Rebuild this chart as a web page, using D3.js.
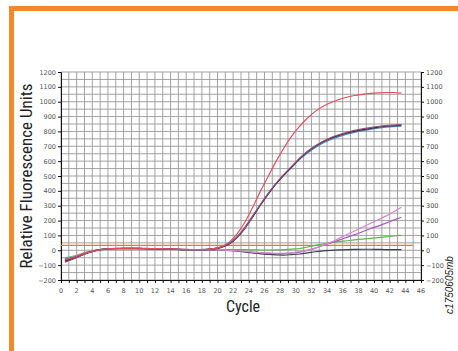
<!DOCTYPE html>
<html>
<head>
<meta charset="utf-8">
<script src="https://cdn.jsdelivr.net/npm/d3@7"></script>
<style>
  body { margin: 0; background: #fff; }
  svg { display: block; }
</style>
</head>
<body>
<script>
// cycles where each reading is plotted
const cycles = [0.5, 1.5, 2.5, 3.5, 4.5, 5.5, 6.5, 7.5, 8.5, 9.5, 10.5, 11.5, 12.5, 13.5, 14.5,
  15.5, 16.5, 17.5, 18.5, 19.5, 20.5, 21.5, 22.5, 23.5, 24.5, 25.5, 26.5, 27.5, 28.5, 29.5,
  30.5, 31.5, 32.5, 33.5, 34.5, 35.5, 36.5, 37.5, 38.5, 39.5, 40.5, 41.5, 42.5, 43.5];

const redVals = [-65, -50, -30, -12, 0, 8, 12, 13, 14, 14, 13, 12, 11, 10, 8,
  6, 5, 5, 6, 12, 25, 55, 110, 190, 290, 400, 500, 600, 690, 770,
  835, 890, 935, 970, 995, 1015, 1030, 1042, 1050, 1056, 1060, 1062, 1062, 1058];
const blackVals = [-72, -56, -35, -15, 0, 8, 12, 13, 13, 13, 12, 11, 10, 9, 7,
  5, 4, 4, 5, 9, 20, 42, 85, 148, 225, 305, 380, 448, 508, 562,
  618, 663, 700, 730, 755, 773, 789, 802, 812, 821, 829, 835, 839, 842];
const blueVals = [-60, -48, -30, -13, 0, 7, 11, 12, 12, 12, 11, 10, 9, 8, 6,
  5, 4, 4, 6, 11, 24, 48, 92, 155, 232, 310, 383, 450, 507, 560,
  612, 655, 692, 722, 746, 765, 781, 794, 805, 814, 822, 828, 832, 835];
const maroonVals = [-80, -60, -38, -16, -1, 7, 11, 12, 13, 13, 12, 11, 10, 9, 7,
  5, 4, 4, 5, 10, 22, 45, 88, 152, 230, 310, 385, 452, 512, 566,
  620, 666, 704, 734, 759, 778, 794, 807, 817, 826, 833, 839, 843, 846];
const pinkVals = [-55, -45, -28, -10, 2, 8, 11, 12, 12, 12, 11, 10, 9, 8, 7,
  6, 5, 5, 5, 4, 2, 0, -3, -7, -12, -15, -18, -20, -20, -17,
  -10, 0, 15, 35, 55, 80, 105, 130, 155, 180, 205, 230, 260, 290];
const purpleVals = [-68, -52, -32, -13, 0, 7, 11, 12, 12, 12, 11, 10, 9, 8, 7,
  6, 5, 4, 4, 3, 1, -1, -3, -8, -12, -17, -20, -22, -22, -18,
  -12, 0, 15, 32, 50, 68, 87, 105, 125, 145, 163, 183, 203, 222];
const greenVals = [-50, -40, -25, -8, 2, 6, 8, 9, 9, 9, 8, 8, 7, 7, 6,
  5, 5, 5, 5, 5, 5, 5, 5, 4, 3, 2, 2, 3, 5, 8,
  12, 22, 33, 43, 52, 58, 64, 70, 75, 80, 85, 90, 96, 100];
const grayVals = [-75, -58, -36, -16, -2, 6, 10, 11, 11, 11, 10, 9, 8, 7, 6,
  5, 4, 4, 4, 3, 1, -2, -5, -12, -18, -24, -28, -31, -32, -29,
  -25, -18, -10, -4, 0, 3, 5, 6, 7, 7, 6, 5, 5, 4];

const seriesNames = ["gray", "green", "purple", "pink", "blue", "black", "maroon", "red"];
const seriesVals = [grayVals, greenVals, purpleVals, pinkVals, blueVals, blackVals, maroonVals, redVals];
const seriesColors = ["#3b3f4f", "#5db846", "#a35bb8", "#d985d0", "#4f7fb8", "#262630", "#9a4f78", "#e2505e"];

const threshold = 33;
const thresholdSpan = [0, 45];

const xTicks = [0, 2, 4, 6, 8, 10, 12, 14, 16, 18, 20, 22, 24, 26, 28, 30, 32, 34, 36, 38, 40, 42, 44, 46];
const yTicks = [-200, -100, 0, 100, 200, 300, 400, 500, 600, 700, 800, 900, 1000, 1100, 1200];

const W = 458, H = 351;
const plot = { left: 61, right: 421, top: 72, bottom: 280 };

const x = d3.scaleLinear().domain([0, 46]).range([plot.left, plot.right]);
const y = d3.scaleLinear().domain([-200, 1200]).range([plot.bottom, plot.top]);

const svg = d3.select("body").append("svg")
  .attr("width", W).attr("height", H);

svg.append("rect").attr("width", W).attr("height", H).attr("fill", "#fff");

// orange frame
svg.append("rect").attr("x", 9).attr("y", 6).attr("width", W - 9).attr("height", 5).attr("fill", "#f5892a");
svg.append("rect").attr("x", 9).attr("y", 6).attr("width", 5).attr("height", H - 6).attr("fill", "#f5892a");

// grid
const grid = svg.append("g");
grid.selectAll(".vg")
  .data(d3.range(0, 47))
  .enter().append("line")
  .attr("x1", d => x(d)).attr("x2", d => x(d))
  .attr("y1", plot.top).attr("y2", plot.bottom)
  .attr("stroke", "#999").attr("stroke-width", 0.9);
grid.selectAll(".hg")
  .data(d3.range(-200, 1201, 50))
  .enter().append("line")
  .attr("x1", plot.left).attr("x2", plot.right)
  .attr("y1", d => y(d)).attr("y2", d => y(d))
  .attr("stroke", "#999").attr("stroke-width", 0.9);

// axes
const tickFont = "DejaVu Sans, sans-serif";

const xAxis = svg.append("g")
  .attr("transform", "translate(0," + plot.bottom + ")")
  .call(d3.axisBottom(x).tickValues(d3.range(0, 47)).tickSize(3).tickFormat(""));
xAxis.selectAll("line").attr("stroke", "#111");
xAxis.select(".domain").attr("stroke", "#111");

svg.append("g").selectAll("text")
  .data(xTicks)
  .enter().append("text")
  .attr("x", d => x(d)).attr("y", plot.bottom + 13)
  .attr("text-anchor", "middle")
  .attr("font-family", tickFont).attr("font-size", 6.5)
  .attr("fill", "#555")
  .text(d => d);

const yLeft = svg.append("g")
  .attr("transform", "translate(" + plot.left + ",0)")
  .call(d3.axisLeft(y).tickValues(yTicks).tickSize(3).tickPadding(2).tickFormat(d3.format("d")));
const yRight = svg.append("g")
  .attr("transform", "translate(" + plot.right + ",0)")
  .call(d3.axisRight(y).tickValues(yTicks).tickSize(3).tickPadding(2).tickFormat(d3.format("d")));

[yLeft, yRight].forEach(g => {
  g.select(".domain").attr("stroke", "#111");
  g.selectAll("line").attr("stroke", "#111");
  g.selectAll("text")
    .attr("font-family", tickFont).attr("font-size", 6.5)
    .attr("fill", "#555");
});

// threshold
svg.append("line")
  .attr("x1", x(thresholdSpan[0])).attr("x2", x(thresholdSpan[1]))
  .attr("y1", y(threshold)).attr("y2", y(threshold))
  .attr("stroke", "#f07a22").attr("stroke-width", 1.4);

// curves
const line = d3.line()
  .x((d, i) => x(cycles[i]))
  .y(d => y(d))
  .curve(d3.curveMonotoneX);

svg.append("g").selectAll("path")
  .data(seriesVals)
  .enter().append("path")
  .attr("d", d => line(d))
  .attr("fill", "none")
  .attr("stroke", (d, i) => seriesColors[i])
  .attr("stroke-width", 1.2)
  .attr("class", (d, i) => seriesNames[i]);

// titles
const titleFont = "'Liberation Sans Narrow', 'Arial Narrow', 'Roboto Condensed', sans-serif";

svg.append("text")
  .attr("transform", "translate(32,176) rotate(-90)")
  .attr("text-anchor", "middle")
  .attr("font-family", titleFont).attr("font-size", 17)
  .attr("fill", "#222")
  .text("Relative Fluorescence Units");

svg.append("text")
  .attr("x", 243).attr("y", 312)
  .attr("text-anchor", "middle")
  .attr("font-family", titleFont).attr("font-size", 16)
  .attr("fill", "#222")
  .text("Cycle");

svg.append("text")
  .attr("transform", "translate(453,285) rotate(-90)")
  .attr("text-anchor", "middle")
  .attr("font-family", "Liberation Sans, Arial, sans-serif").attr("font-size", 10)
  .attr("font-style", "italic")
  .attr("fill", "#222")
  .text("c1750605mb");
</script>
</body>
</html>
